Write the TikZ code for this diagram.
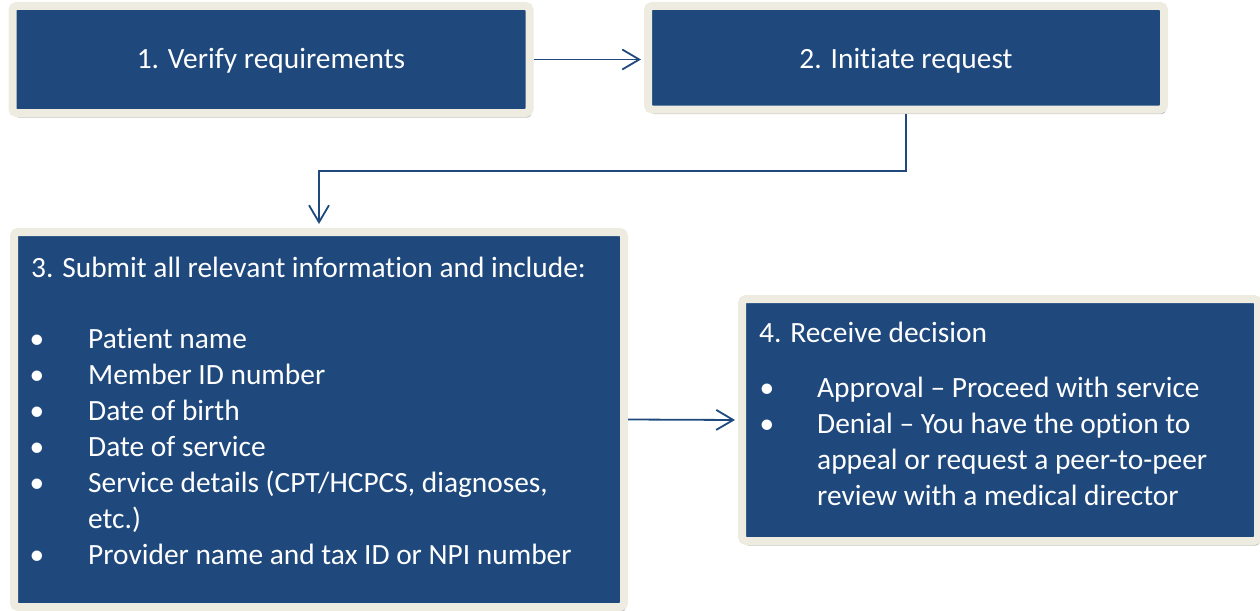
\documentclass[tikz,border=0pt]{standalone}
\usepackage{fontspec}
\setmainfont{Carlito}[Ligatures=NoCommon]
\usetikzlibrary{arrows.meta,shadows}
\definecolor{boxblue}{HTML}{1F497D}
\definecolor{boxrim}{HTML}{EEECE1}
\begin{document}
\begin{tikzpicture}[x=1pt,y=-1pt,
  stepbox/.style={draw=boxrim, fill=boxblue, line width=8pt, rounded corners=4pt,
    inner sep=0pt,
    drop shadow={shadow xshift=2pt, shadow yshift=-4.5pt, opacity=0.35, fill=black!70}},
  txt/.style={text=white, inner sep=0pt, font=\fontsize{29.4pt}{36pt}\selectfont},
  conn/.style={draw=boxblue, line width=1.8pt,
    -{Straight Barb[length=17pt,width=20pt,line width=1.8pt]}}]
\useasboundingbox (0,0) rectangle (1260,610);
% boxes
\node[stepbox, minimum width=517pt, minimum height=107pt] (box1) at (271,59.5) {};
\node[stepbox, minimum width=516pt, minimum height=103.5pt] (box2) at (906,57.75) {};
\node[stepbox, minimum width=610pt, minimum height=375pt] (box3) at (319,419.5) {};
\node[stepbox, minimum width=516pt, minimum height=242pt] (box4) at (1000,420) {};
% box texts
\node[txt, anchor=base] (t1) at (271,69) {1. Verify requirements};
\node[txt, anchor=base] (t2) at (906,69) {2. Initiate request};
\node[txt, anchor=base west] (t3) at (31,277) {3. Submit all relevant information and include:};
\node[txt, anchor=base] (b31) at (37,348) {•};
\node[txt, anchor=base west] (l31) at (88,348) {Patient name};
\node[txt, anchor=base] (b32) at (37,384) {•};
\node[txt, anchor=base west] (l32) at (88,384) {Member ID number};
\node[txt, anchor=base] (b33) at (37,420) {•};
\node[txt, anchor=base west] (l33) at (88,420) {Date of birth};
\node[txt, anchor=base] (b34) at (37,456) {•};
\node[txt, anchor=base west] (l34) at (88,456) {Date of service};
\node[txt, anchor=base] (b35) at (37,492) {•};
\node[txt, anchor=base west] (l35) at (88,492) {Service details (CPT/HCPCS, diagnoses,};
\node[txt, anchor=base west] (l35b) at (88,528) {etc.)};
\node[txt, anchor=base] (b36) at (37,564) {•};
\node[txt, anchor=base west] (l36) at (88,564) {Provider name and tax ID or NPI number};
\node[txt, anchor=base west] (t4) at (759,342) {4. Receive decision};
\node[txt, anchor=base] (b41) at (767,397) {•};
\node[txt, anchor=base west] (l41) at (817,397) {Approval – Proceed with service};
\node[txt, anchor=base] (b42) at (767,433) {•};
\node[txt, anchor=base west] (l42) at (817,433) {Denial – You have the option to};
\node[txt, anchor=base west] (l42b) at (817,469) {appeal or request a peer-to-peer};
\node[txt, anchor=base west] (l42c) at (817,505) {review with a medical director};
% connectors
\draw[conn, shorten >=3pt] (box1.east) -- (box1.east -| box2.west);
\coordinate (bend) at ([yshift=-57.5pt]box2.south);
\draw[conn, shorten >=4pt] (box2.south) -- (bend) -| (box3.north);
\draw[conn, shorten >=3pt] (box3.east) -- (box4.west);
\end{tikzpicture}
\end{document}
